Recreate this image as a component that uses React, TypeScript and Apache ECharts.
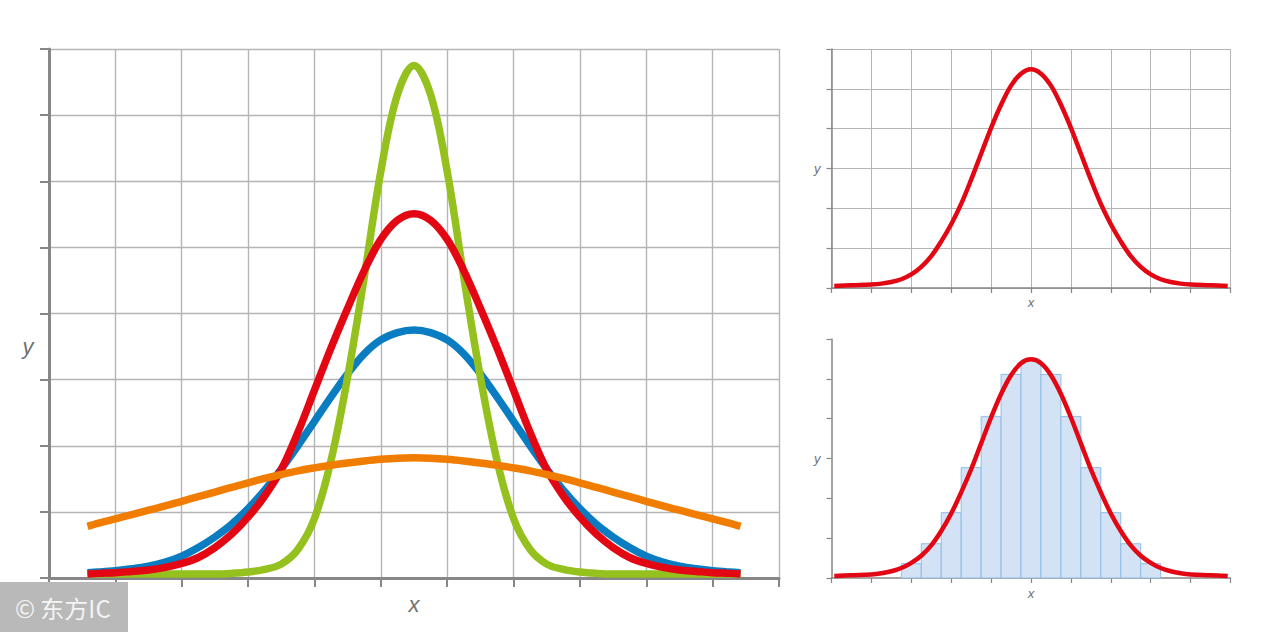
import React, { useEffect, useRef } from 'react';
import * as echarts from 'echarts';

// large chart, x and y in grid units
const mainX = [0.58, 0.75, 1, 1.25, 1.5, 1.75, 2, 2.25, 2.5, 2.75, 3, 3.25, 3.5, 3.75, 4, 4.25, 4.5, 4.75, 5, 5.25, 5.5, 5.75, 6, 6.25, 6.5, 6.75, 7, 7.25, 7.5, 7.75, 8, 8.25, 8.5, 8.75, 9, 9.25, 9.5, 9.75, 10, 10.25, 10.42];
const blueY = [0.08, 0.09, 0.11, 0.14, 0.18, 0.24, 0.33, 0.46, 0.62, 0.81, 1.05, 1.33, 1.65, 2.0, 2.37, 2.74, 3.09, 3.39, 3.6, 3.71, 3.75, 3.71, 3.6, 3.39, 3.09, 2.74, 2.37, 2.0, 1.65, 1.33, 1.05, 0.81, 0.62, 0.46, 0.33, 0.24, 0.18, 0.14, 0.11, 0.09, 0.08];
const greenY = [0.06, 0.06, 0.06, 0.06, 0.06, 0.06, 0.06, 0.06, 0.06, 0.07, 0.09, 0.13, 0.21, 0.43, 0.9, 1.78, 3.04, 4.55, 6.15, 7.31, 7.75, 7.31, 6.15, 4.55, 3.04, 1.78, 0.9, 0.43, 0.21, 0.13, 0.09, 0.07, 0.06, 0.06, 0.06, 0.06, 0.06, 0.06, 0.06, 0.06, 0.06];
const redY = [0.06, 0.07, 0.08, 0.1, 0.12, 0.16, 0.22, 0.31, 0.46, 0.66, 0.92, 1.24, 1.64, 2.2, 2.84, 3.48, 4.08, 4.65, 5.12, 5.41, 5.51, 5.41, 5.12, 4.65, 4.08, 3.48, 2.84, 2.2, 1.64, 1.24, 0.92, 0.66, 0.46, 0.31, 0.22, 0.16, 0.12, 0.1, 0.08, 0.07, 0.06];
const orangeY = [0.78, 0.83, 0.895, 0.96, 1.025, 1.09, 1.16, 1.23, 1.3, 1.37, 1.44, 1.505, 1.565, 1.62, 1.665, 1.705, 1.74, 1.77, 1.795, 1.812, 1.818, 1.812, 1.795, 1.77, 1.74, 1.705, 1.665, 1.62, 1.565, 1.505, 1.44, 1.37, 1.3, 1.23, 1.16, 1.09, 1.025, 0.96, 0.895, 0.83, 0.78];

// small charts
const smallX = [0.07, 0.5, 1, 1.25, 1.5, 1.75, 2, 2.25, 2.5, 2.75, 3, 3.25, 3.5, 3.75, 4, 4.25, 4.5, 4.75, 5, 5.25, 5.5, 5.75, 6, 6.25, 6.5, 6.75, 7, 7.25, 7.5, 7.75, 8, 8.25, 8.5, 8.75, 9, 9.5, 9.93];
const topY = [0.05, 0.07, 0.09, 0.11, 0.15, 0.22, 0.34, 0.53, 0.8, 1.17, 1.6, 2.11, 2.72, 3.37, 4.02, 4.6, 5.08, 5.38, 5.49, 5.38, 5.08, 4.6, 4.02, 3.37, 2.72, 2.11, 1.6, 1.17, 0.8, 0.53, 0.34, 0.22, 0.15, 0.11, 0.09, 0.07, 0.05];
const bottomY = [0.05, 0.07, 0.09, 0.12, 0.17, 0.25, 0.38, 0.56, 0.82, 1.18, 1.62, 2.15, 2.73, 3.38, 4.03, 4.62, 5.09, 5.39, 5.49, 5.39, 5.09, 4.62, 4.03, 3.38, 2.73, 2.15, 1.62, 1.18, 0.82, 0.56, 0.38, 0.25, 0.17, 0.12, 0.09, 0.07, 0.05];
const binCenters = [2, 2.5, 3, 3.5, 4, 4.5, 5, 5.5, 6, 6.5, 7, 7.5, 8];
const binHeights = [0.36, 0.86, 1.64, 2.77, 4.05, 5.11, 5.47, 5.11, 4.05, 2.77, 1.64, 0.86, 0.36];

const AXIS = '#878787';
const GRID = '#b5b5b5';
const LABEL = '#706f6f';
const FONT = '"Liberation Sans", Arial, sans-serif';

const pairs = (xs: number[], ys: number[]) => xs.map((x, i) => [x, ys[i]]);

const makeAxis = (
  gridIndex: number,
  name: string,
  max: number,
  big: boolean,
  showGrid: boolean,
  gap: number,
  padding: number[],
) => ({
  type: 'value',
  gridIndex,
  min: 0,
  max,
  interval: 1,
  name,
  nameLocation: 'middle',
  nameRotate: 0,
  nameGap: gap,
  nameTextStyle: {
    color: LABEL,
    fontStyle: 'italic',
    fontFamily: FONT,
    fontSize: big ? 22 : 13,
    padding,
  },
  axisLine: { show: true, onZero: false, lineStyle: { color: AXIS, width: big ? 3 : 1.5 } },
  axisTick: {
    show: true,
    length: big ? 9 : 5,
    lineStyle: { color: AXIS, width: big ? 2 : 1.2 },
  },
  axisLabel: { show: false },
  splitLine: { show: showGrid, lineStyle: { color: GRID, width: big ? 1.4 : 1 } },
});

const curve = (name: string, data: number[][], color: string, width: number, axis: number, z: number) => ({
  name,
  type: 'line',
  xAxisIndex: axis,
  yAxisIndex: axis,
  data,
  smooth: 0.35,
  showSymbol: false,
  symbol: 'none',
  z,
  lineStyle: { color, width, cap: 'butt' },
});

const App: React.FC = () => {
  const chartRef = useRef<HTMLDivElement | null>(null);

  useEffect(() => {
    if (!chartRef.current) return;
    const chart = echarts.init(chartRef.current, undefined, { renderer: 'svg' });

    chart.setOption({
      animation: false,
      backgroundColor: '#ffffff',
      grid: [
        { left: 49, top: 49, width: 730, height: 529 },
        { left: 831.5, top: 49, width: 399, height: 239 },
        { left: 831.5, top: 339, width: 399, height: 239 },
      ],
      xAxis: [
        makeAxis(0, 'x', 11, true, true, 15, [0, 0, 0, 0]),
        makeAxis(1, 'x', 10, false, true, 8, [0, 0, 0, 0]),
        makeAxis(2, 'x', 10, false, false, 9, [0, 0, 0, 0]),
      ],
      yAxis: [
        // the big y label sits below the axis middle, see graphic
        makeAxis(0, '', 8, true, true, 15, [0, 0, 0, 0]),
        makeAxis(1, 'y', 6, false, true, 11, [0, 0, 4, 0]),
        makeAxis(2, 'y', 6, false, false, 11, [0, 0, 4, 0]),
      ],
      series: [
        curve('Blue', pairs(mainX, blueY), '#0a7cc1', 7.5, 0, 3),
        curve('Green', pairs(mainX, greenY), '#95c11f', 7.5, 0, 4),
        curve('Red', pairs(mainX, redY), '#e30613', 7.5, 0, 5),
        curve('Orange', pairs(mainX, orangeY), '#f07d00', 7.5, 0, 6),
        curve('Top curve', pairs(smallX, topY), '#e30613', 4.5, 1, 5),
        {
          name: 'Histogram',
          type: 'custom',
          xAxisIndex: 2,
          yAxisIndex: 2,
          z: 1,
          data: pairs(binCenters, binHeights),
          renderItem: (_params: any, api: any) => {
            const c = api.value(0);
            const a = api.coord([c - 0.25, api.value(1)]);
            const b = api.coord([c + 0.25, 0]);
            return {
              type: 'rect',
              shape: { x: a[0], y: a[1], width: b[0] - a[0], height: b[1] - a[1] },
              style: { fill: '#d4e2f5', stroke: '#8fbde6', lineWidth: 1 },
            };
          },
        },
        curve('Bottom curve', pairs(smallX, bottomY), '#e30613', 4.5, 2, 5),
      ],
      graphic: [
        {
          type: 'text',
          x: 28,
          y: 346,
          style: {
            text: 'y',
            fill: LABEL,
            font: `italic 22px ${FONT}`,
            textAlign: 'center',
            textVerticalAlign: 'middle',
          },
        },
        {
          type: 'rect',
          z: 100,
          shape: { x: 0, y: 582, width: 128, height: 50 },
          style: { fill: '#b9b9b9' },
        },
        {
          type: 'text',
          z: 101,
          x: 15,
          y: 607,
          style: {
            text: '© 东方IC',
            fill: '#f4f4f4',
            font: '24px "Noto Sans CJK SC", "Liberation Sans", sans-serif',
            textVerticalAlign: 'middle',
          },
        },
      ],
    });

    return () => {
      chart.dispose();
    };
  }, []);

  return (
    <div
      ref={chartRef}
      style={{ position: 'absolute', left: 0, top: 0, width: 1280, height: 632 }}
    />
  );
};

export default App;
